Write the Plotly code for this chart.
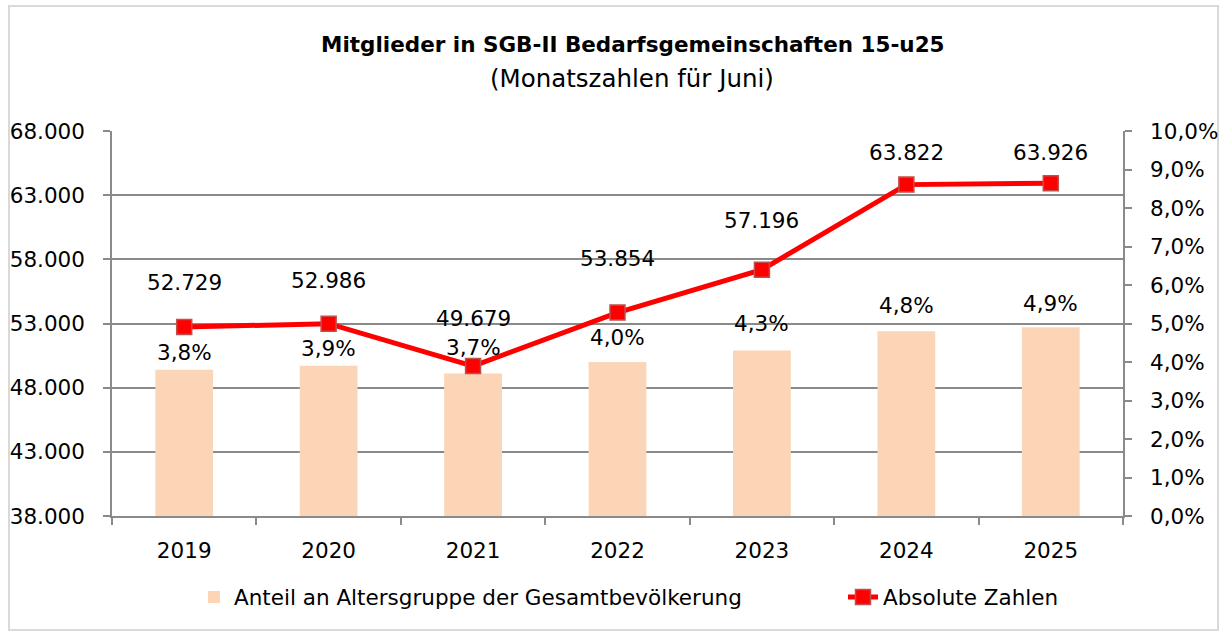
import plotly.graph_objects as go

# ---- data ----
years = ["2019", "2020", "2021", "2022", "2023", "2024", "2025"]
absolute = [52729, 52986, 49679, 53854, 57196, 63822, 63926]
share = [0.038, 0.039, 0.037, 0.040, 0.043, 0.048, 0.049]

title_text = "Mitglieder in SGB-II Bedarfsgemeinschaften 15-u25"
subtitle_text = "(Monatszahlen für Juni)"
bar_name = "Anteil an Altersgruppe der Gesamtbevölkerung"
line_name = "Absolute Zahlen"

# label offsets (pixels above the data point), style only
line_label_shift = [44, 43, 48, 54, 49, 32, 31]
bar_label_shift = [17, 17, 26, 25, 27, 26, 24]

FONT = "DejaVu Sans"
FS = 21.5
GRID = "#8A8A8A"
BAR = "#FBD5B5"
RED = "#FF0000"

W, H = 1222, 633
L, R, T, B = 112, 99, 131, 117
PW, PH = W - L - R, H - T - B


def px_x(px):
    return (px - L) / PW


def px_y(py):
    return (H - B - py) / PH


def fmt_abs(v):
    return f"{v:,}".replace(",", ".")


def fmt_pct(v):
    return f"{v * 100:.1f}%".replace(".", ",")


fig = go.Figure()
fig.add_trace(go.Bar(
    x=years, y=share, name=bar_name, marker=dict(color=BAR, line=dict(width=0)),
    width=0.4, yaxis="y", legend="legend", hoverinfo="skip",
))
fig.add_trace(go.Scatter(
    x=years, y=absolute, name=line_name, mode="lines+markers", yaxis="y2",
    line=dict(color=RED, width=5),
    marker=dict(symbol="square", size=15, color=RED, line=dict(color="#C0504D", width=1.5)),
    legend="legend2", hoverinfo="skip",
))

annotations = []
for i, (v, s) in enumerate(zip(absolute, line_label_shift)):
    annotations.append(dict(x=i, y=v, xref="x", yref="y2", text=fmt_abs(v), showarrow=False,
                            yshift=s, yanchor="middle", font=dict(family=FONT, size=FS, color="#000")))
for i, (v, s) in enumerate(zip(share, bar_label_shift)):
    annotations.append(dict(x=i, y=v, xref="x", yref="y", text=fmt_pct(v), showarrow=False,
                            yshift=s, yanchor="middle", font=dict(family=FONT, size=FS, color="#000")))
annotations.append(dict(x=px_x(633), y=px_y(45), xref="paper", yref="paper", text=f"<b>{title_text}</b>",
                        showarrow=False, xanchor="center", yanchor="middle",
                        font=dict(family=FONT, size=21.5, color="#000")))
annotations.append(dict(x=px_x(632), y=px_y(78), xref="paper", yref="paper", text=subtitle_text,
                        showarrow=False, xanchor="center", yanchor="middle",
                        font=dict(family=FONT, size=24.5, color="#000")))

fig.update_layout(
    width=W, height=H,
    margin=dict(l=L, r=R, t=T, b=B, pad=0, autoexpand=False),
    paper_bgcolor="white", plot_bgcolor="white",
    font=dict(family=FONT, size=FS, color="#000"),
    separators=",.",
    showlegend=True,
    xaxis=dict(
        type="category", range=[-0.5, len(years) - 0.5], autorange=False, automargin=False,
        showgrid=False, showline=True, linecolor=GRID, linewidth=1.5,
        ticks="outside", tickson="boundaries", ticklen=7, tickcolor=GRID, tickwidth=1.5,
        ticklabelstandoff=14, tickangle=0, tickfont=dict(family=FONT, size=FS, color="#000"),
    ),
    yaxis=dict(
        side="right", range=[0, 0.10], autorange=False, automargin=False, dtick=0.01,
        tickformat=".1%", showgrid=False,
        showline=True, linecolor=GRID, linewidth=1.5, ticks="outside", ticklen=7,
        tickcolor=GRID, tickwidth=1.5, ticklabelstandoff=14, zeroline=False,
        tickfont=dict(family=FONT, size=FS, color="#000"),
    ),
    yaxis2=dict(
        side="left", overlaying="y", range=[38000, 68000], autorange=False, automargin=False,
        dtick=5000, tick0=38000,
        tickformat=",d", showgrid=True, gridcolor=GRID, gridwidth=1.5,
        showline=True, linecolor=GRID, linewidth=1.5, ticks="outside", ticklen=7,
        tickcolor=GRID, tickwidth=1.5, ticklabelstandoff=14, zeroline=False,
        tickfont=dict(family=FONT, size=FS, color="#000"),
    ),
    legend=dict(orientation="h", x=px_x(194), y=px_y(597), xanchor="left", yanchor="middle",
                bgcolor="rgba(0,0,0,0)", font=dict(family=FONT, size=FS, color="#000")),
    legend2=dict(orientation="h", x=px_x(843), y=px_y(597), xanchor="left", yanchor="middle",
                 bgcolor="rgba(0,0,0,0)", font=dict(family=FONT, size=FS, color="#000")),
    annotations=annotations,
    shapes=[dict(type="rect", xref="paper", yref="paper", x0=px_x(9), x1=px_x(1218),
                 y0=px_y(630), y1=px_y(6), line=dict(color="#D9D9D9", width=2),
                 fillcolor="rgba(0,0,0,0)", layer="below")],
)

fig.write_html("out.html", config={"displayModeBar": False},
               post_script="document.body.style.margin='0';document.body.style.overflow='hidden';")
